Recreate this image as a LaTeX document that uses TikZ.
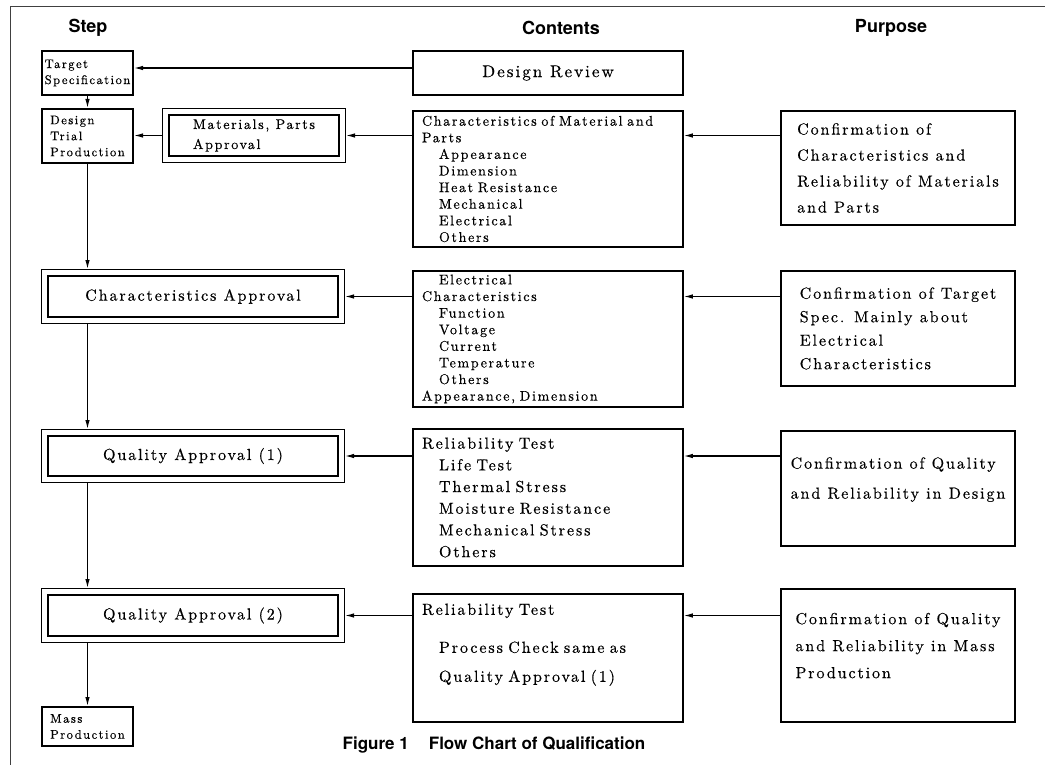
\documentclass[tikz,border=0pt]{standalone}
\usepackage{fontspec}
\setmainfont{lmroman10-regular.otf}[LetterSpace=12, FakeBold=0.4]
\newfontfamily\headfont{TeX Gyre Heros}
\usetikzlibrary{arrows.meta}

\newcommand{\itm}{\hspace*{17pt}}

\begin{document}
\begin{tikzpicture}[
			x = 1pt, y = -1pt, % one unit per point, rows counted downwards
			> = {Latex[length=9pt,width=4.5pt]}, % arrow head style
			flow/.style = {->, line width=1.2pt},
			head/.style = {font=\headfont\bfseries\fontsize{18}{21}\selectfont},
			box/.style = {draw, line width=1.6pt, align=left, inner sep=0pt},
			small/.style = {box, minimum width=91.4pt, font=\fontsize{12.5}{16}\selectfont},
			dbl/.style = {draw, double, double distance=5.2pt, line width=1.2pt, outer sep=3.8pt,
				minimum width=296.4pt, minimum height=47.4pt, font=\fontsize{16}{20}\selectfont},
			cbox/.style = {box, text width=252pt, inner xsep=9pt},
			pbox/.style = {box, minimum width=234.4pt, minimum height=115.4pt}
			]
			
			\useasboundingbox (0,0) rectangle (1045,765);
			\draw[line width=1pt, black!75] (10,765) -- (10,7) -- (1045,7);
			
			% column heads
			\node[head] (hstep) at (88,28) {Step};
			\node[head] (hcont) at (561,28) {Contents};
			\node[head] (hpurp) at (891,28) {Purpose};
			
			% step column
			\node[small, minimum height=44.4pt] (tgt) at (87.5,73) {Target\\Specification};
			\node[small, minimum height=54.4pt] (dtp) at (87.5,136) {Design\\Trial\\Production};
			\node[dbl, minimum width=176.4pt, align=left, font=\fontsize{14}{20}\selectfont] (mpa) at (254,135.5) {Materials, Parts\\Approval};
			\node[dbl] (ca) at (193,296.5) {Characteristics Approval};
			\node[dbl, minimum height=46.4pt] (qa1) at (193,456) {Quality Approval (1)};
			\node[dbl] (qa2) at (193,615.5) {Quality Approval (2)};
			\node[small, minimum height=39.4pt] (mp) at (87.5,726.5) {Mass\\Production};
			
			% contents column
			\node[box, minimum width=270.4pt, minimum height=44.4pt, font=\fontsize{17}{20}\selectfont] (dr) at (548,73) {Design Review};
			\node[cbox, minimum height=136.4pt, font=\fontsize{14}{16.6}\selectfont] (c1) at (548,179)
				{Characteristics of Material and\\Parts\\\itm Appearance\\\itm Dimension\\\itm Heat Resistance\\\itm Mechanical\\\itm Electrical\\\itm Others};
			\node[cbox, minimum height=136.4pt, font=\fontsize{14}{16.6}\selectfont] (c2) at (548,339)
				{\itm Electrical\\Characteristics\\\itm Function\\\itm Voltage\\\itm Current\\\itm Temperature\\\itm Others\\Appearance, Dimension};
			\node[cbox, minimum height=137.4pt, font=\fontsize{16}{21.7}\selectfont] (c3) at (548,497.5)
				{Reliability Test\\\itm Life Test\\\itm Thermal Stress\\\itm Moisture Resistance\\\itm Mechanical Stress\\\itm Others};
			\node[cbox, minimum height=128.4pt, font=\fontsize{16}{21.7}\selectfont] (c4) at (548,658)
				{Reliability Test\\[16.3pt]\itm Process Check same as\\[7.3pt]\itm Quality Approval (1)\\[8.8pt]\mbox{}};
			
			% purpose column
			\node[pbox, minimum height=114.4pt, font=\fontsize{16}{26}\selectfont] (p1) at (898,168)
				{Confirmation of\\Characteristics and\\Reliability of Materials\\and Parts};
			\node[pbox, font=\fontsize{16}{23.5}\selectfont] (p2) at (898,328.5)
				{Confirmation of Target\\Spec. Mainly about\\Electrical\\Characteristics};
			\node[pbox, font=\fontsize{16}{30}\selectfont] (p3) at (898,488.5)
				{Confirmation of Quality\\and Reliability in Design\\[-9pt]\mbox{}};
			\node[pbox, minimum height=133.4pt, font=\fontsize{16}{27}\selectfont] (p4) at (898,655.5)
				{Confirmation of Quality\\and Reliability in Mass\\Production\\[-7pt]\mbox{}};
			
			\node[font=\headfont\bfseries\fontsize{17}{20}\selectfont] (cap) at (494,745) {Figure 1\hspace{20pt}Flow Chart of Qualification};
			
			% down the step column
			\path[flow]
			(tgt.south) edge (tgt.south |- dtp.north)
			(dtp.south) edge (dtp.south |- ca.north)
			(ca.south -| dtp.south) edge (qa1.north -| dtp.south)
			(qa1.south -| dtp.south) edge (qa2.north -| dtp.south)
			(qa2.south -| mp.north) edge (mp.north);
			
			% from right to left
			\path[flow]
			([yshift=5pt]dr.west) edge ([yshift=5pt]dr.west -| tgt.east)
			(mpa.west) edge (mpa.west -| dtp.east)
			(c1.west |- mpa.east) edge (mpa.east)
			(p1.west |- mpa.east) edge (c1.east |- mpa.east)
			(c2.west |- ca.east) edge (ca.east)
			(p2.west |- ca.east) edge (c2.east |- ca.east)
			(c3.west |- qa1.east) edge (qa1.east)
			(p3.west |- qa1.east) edge (c3.east |- qa1.east)
			(c4.west |- qa2.east) edge (qa2.east)
			(p4.west |- qa2.east) edge (c4.east |- qa2.east);
			
		\end{tikzpicture}
\end{document}
